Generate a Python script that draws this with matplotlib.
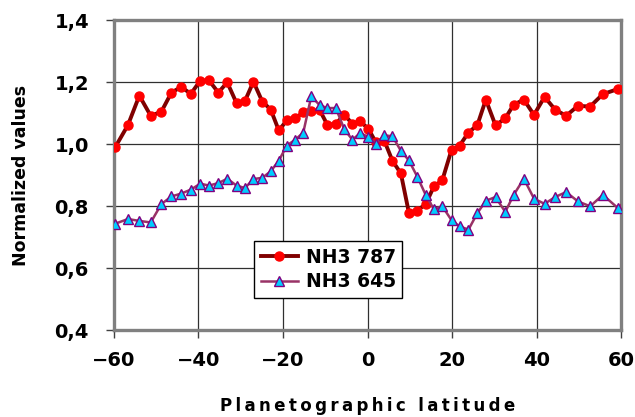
import numpy as np
import matplotlib.pyplot as plt
from matplotlib.ticker import FuncFormatter

# latitude grid shared by both NH3 profiles (deg)
lat = [-62.0, -59.7, -56.7, -54.0, -51.3, -48.8, -46.4, -44.1, -41.8, -39.6,
       -37.5, -35.3, -33.2, -31.0, -29.0, -27.0, -24.9, -22.9, -21.0, -19.1,
       -17.1, -15.2, -13.3, -11.3, -9.5, -7.5, -5.5, -3.6, -1.7, 0.2,
       2.0, 4.0, 5.9, 7.9, 9.8, 11.8, 13.8, 15.7, 17.7, 19.9,
       21.8, 23.9, 26.0, 28.0, 30.3, 32.6, 34.6, 37.0, 39.4, 41.9,
       44.4, 47.0, 49.8, 52.7, 55.7, 59.2, 62.0]

nh3_787 = [0.990, 0.990, 1.061, 1.156, 1.091, 1.104, 1.166, 1.184, 1.162, 1.204,
           1.205, 1.166, 1.199, 1.132, 1.139, 1.201, 1.137, 1.111, 1.044, 1.076,
           1.083, 1.102, 1.105, 1.109, 1.062, 1.065, 1.095, 1.065, 1.073, 1.049,
           1.005, 1.010, 0.946, 0.905, 0.778, 0.785, 0.807, 0.863, 0.883, 0.982,
           0.995, 1.037, 1.061, 1.143, 1.060, 1.083, 1.127, 1.143, 1.094, 1.152,
           1.111, 1.091, 1.123, 1.121, 1.161, 1.177, 1.175]

nh3_645 = [0.745, 0.743, 0.758, 0.752, 0.747, 0.806, 0.831, 0.840, 0.853, 0.872,
           0.866, 0.874, 0.888, 0.866, 0.858, 0.887, 0.891, 0.912, 0.946, 0.995,
           1.014, 1.037, 1.154, 1.125, 1.116, 1.116, 1.048, 1.014, 1.035, 1.023,
           1.001, 1.028, 1.025, 0.978, 0.947, 0.894, 0.835, 0.790, 0.799, 0.754,
           0.734, 0.724, 0.777, 0.817, 0.829, 0.781, 0.836, 0.888, 0.824, 0.807,
           0.829, 0.845, 0.815, 0.799, 0.836, 0.794, 0.825]

xticks = [-60, -40, -20, 0, 20, 40, 60]
yticks = [0.4, 0.6, 0.8, 1.0, 1.2, 1.4]

plt.rcParams['font.family'] = ['DejaVu Sans']
plt.rcParams['font.weight'] = 'bold'

fig = plt.figure(figsize=(6.35, 4.17), dpi=100)
ax = fig.add_axes([0.1795, 0.2086, 0.7985, 0.7434])

ax.plot(lat, nh3_787, color='#800000', lw=2.8, marker='o', ms=6.5,
        mfc='#ff0000', mec='#ff0000', label='NH3 787', zorder=3)
ax.plot(lat, nh3_645, color='#993366', lw=1.8, marker='^', ms=6.5,
        mfc='#00ccff', mec='#800080', mew=1.0, label='NH3 645', zorder=4)

ax.set_xlim(-60, 60)
ax.set_ylim(0.4, 1.4)
ax.set_xticks(xticks)
ax.set_yticks(yticks)
ax.yaxis.set_major_formatter(FuncFormatter(lambda v, p: f'{v:.1f}'.replace('.', ',')))
ax.grid(True, color='#303030', lw=0.9)
ax.set_axisbelow(True)

for s in ax.spines.values():
    s.set_color('#808080')
    s.set_linewidth(2.4)

ax.tick_params(axis='both', direction='out', length=6, width=1, color='#404040',
               labelsize=14)
ax.tick_params(axis='y', pad=12)
ax.tick_params(axis='x', pad=9)

# spaced-out axis title
xlab = '\u2009'.join('Planetographic latitude')
ax.set_xlabel(xlab, fontsize=12, fontweight='bold')
ax.set_ylabel('Normalized values', fontsize=12.5, fontweight='bold')
ax.xaxis.set_label_coords(0.5, -0.215)
ax.yaxis.set_label_coords(-0.165, 0.5)

leg = ax.legend(loc='upper left', bbox_to_anchor=(254 / 635, 1 - 241 / 417),
                bbox_transform=fig.transFigure, fontsize=13.5, frameon=True,
                fancybox=False, edgecolor='black', framealpha=1,
                handlelength=2.0, borderpad=0.35, labelspacing=0.3,
                handletextpad=0.4, borderaxespad=0)
leg.get_frame().set_linewidth(1.0)

fig.savefig('out.png', dpi=100)
